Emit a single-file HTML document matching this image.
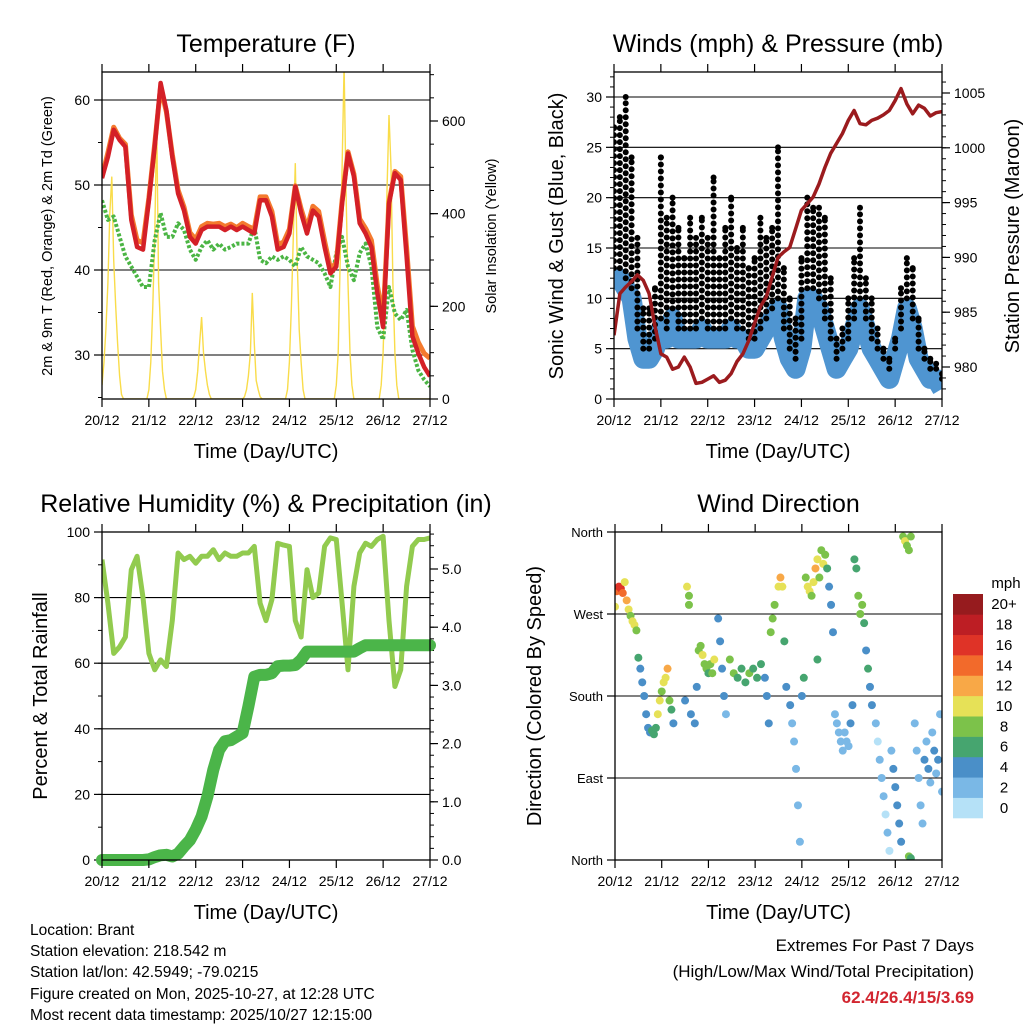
<!DOCTYPE html>
<html><head><meta charset="utf-8">
<style>
html,body{margin:0;padding:0;background:#fff;}
svg{display:block;font-family:"Liberation Sans",Arial,sans-serif;}
.foot{position:absolute;font-family:"Liberation Sans",Arial,sans-serif;font-size:15.5px;color:#000;}
</style></head>
<body>
<div style="position:relative;width:1024px;height:1024px;overflow:hidden">
<svg id="chart" width="1024" height="1024" viewBox="0 0 1024 1024"></svg>
<div class="foot" style="left:30px;top:920px;line-height:21.2px">Location: Brant<br>Station elevation: 218.542 m<br>Station lat/lon: 42.5949; -79.0215<br>Figure created on Mon, 2025-10-27, at 12:28 UTC<br>Most recent data timestamp: 2025/10/27 12:15:00</div>
<div class="foot" style="right:50px;top:933px;text-align:right;line-height:26px;font-size:17px">Extremes For Past 7 Days<br>(High/Low/Max Wind/Total Precipitation)<br><b style="color:#d22630">62.4/26.4/15/3.69</b></div>
</div>
<script>
// ---- data (3-hour steps, t = 0..168 h from 20/12) ----
const dayLabels = ["20/12","21/12","22/12","23/12","24/12","25/12","26/12","27/12"];
const tempRed = [50.8,53.3,56.5,55.3,54.5,45.9,42.7,42.4,48.2,54.5,62,58.8,53.3,49,47,43.9,43.1,44.7,45.1,45.1,45.1,44.7,45.1,44.7,45.1,44.7,44.3,48.2,48.2,46.3,42.4,42.7,44.3,49.8,46.7,44.3,47,46.3,42.7,39.6,40.4,47.8,53.7,51,45.5,44.3,42.7,37.3,33.3,47.8,51.4,50.6,41.6,32.2,30.2,28.6,27.5];
const tempOrange = [51,53.8,56.8,55.5,54.8,46.5,43.5,43.2,48.5,54.8,61.5,58.6,53.6,49.4,47.4,44.4,43.6,45.1,45.5,45.4,45.5,45.1,45.4,45,45.5,45.1,44.8,48.6,48.6,46.9,43,43.3,44.8,49.9,47.2,44.9,47.5,46.9,43.4,40.2,40.8,48.2,53.9,51.3,46,44.9,43.5,38.2,34.4,48,51.6,51,42.6,33.4,31.5,30.2,29.6];
const dewGreen = [48.2,45.9,46.3,43.9,41.6,40.4,39.2,38,38,43.5,46.7,43.9,43.9,45.5,44.7,42.4,41.2,42.7,43.5,42.4,43.1,42.4,42.7,43.1,43.1,43.1,45.1,41.2,40.8,41.6,41.2,41.6,41.2,40.4,42.7,41.6,41.2,40.8,39.6,38,42,43.9,40.4,38.8,42,43.1,40.4,33.3,31.8,38,34.9,34.1,35.3,30.6,28.2,27.1,26.3];
const solarT = [0,1,2,3,4,5,6,7,8,9,10,11, 23,24,25,26,27,28,29,30,31,32,33,34,35, 46,47,48,49,50,51,52,53,54,55,56, 72,73,74,75,76,77,78,79,80,81,82, 94,95,96,97,98,99,100,101,102,103,104, 119,120,121,122,123,124,125,126,127,128,129, 142,143,144,145,146,147,148,149,150,151,152,168];
const solarV = [30,80,150,250,400,480,300,200,120,50,10,0, 0,20,80,200,350,596,250,150,60,20,0,0,0, 0,5,20,60,120,177,100,60,30,10,0, 0,5,20,50,100,229,120,40,20,5,0, 0,20,80,200,350,509,300,150,80,20,0, 0,30,100,300,500,720,450,250,100,30,0, 0,30,100,250,450,613,500,250,100,30,0,0];
const windSpeed = [12,12,11,10,6,4,4,5,7,6,8,6,6,6,6,7,6,6,6,6,7,6,6,5,5,6,7,8,9,6,4,3,5,10,10,9,7,5,3,4,5,7,9,7,5,4,3,2,4,6,9,7,4,3,2,2,1];
const windGust = [27,28,30,24,16,9,9,11,24,18,20,17,14,18,16,18,16,22,14,17,20,15,17,13,14,18,16,17,25,13,10,8,14,20,19,19,18,12,6,7,10,14,19,12,10,7,5,4,6,11,14,13,8,5,4,3.5,2.5];
const pressure = [982.9,986.7,987.3,987.8,988.4,987.9,986.7,983.7,981.2,980.9,979.8,980,980.9,980,978.5,978.6,978.9,979.2,978.6,978.8,979.4,980.5,981.2,982.4,984,985.5,986.4,988.2,990,990.5,990.9,992.6,994.3,994.9,995.5,996.7,998.2,999.5,1000.4,1001.3,1002.5,1003.4,1002.2,1002.1,1002.5,1002.7,1003,1003.4,1004.3,1005.4,1004,1003.1,1003.9,1003.6,1002.9,1003.2,1003.3];
const relHum = [91.6,78.3,63,65,68,88.5,92.6,80,63,58,61,59,73,93.6,91.6,92.6,90.5,92.6,92.6,94.6,91.6,93.6,92.6,92.6,93.6,93.6,95.6,78.3,73,79.4,96.6,96,95.6,73,68,88.5,80,81.4,95.6,98.2,97.7,78.3,58,83.4,93.6,96.6,95.6,97.7,98.7,73,52.9,58,83.4,95.6,97.7,97.7,98.2];
const precip = [0,0,0,0,0,0,0,0,0.01,0.05,0.08,0.09,0.06,0.11,0.23,0.34,0.52,0.75,1.09,1.55,1.89,2.04,2.06,2.12,2.18,2.64,3.15,3.18,3.18,3.21,3.33,3.34,3.34,3.35,3.44,3.58,3.58,3.58,3.58,3.58,3.58,3.58,3.58,3.58,3.64,3.69,3.69,3.69,3.69,3.69,3.69,3.69,3.69,3.69,3.69,3.69,3.69];
const dirT = [0,1,2,3,4,5,6,7,8,9,10,11,12,13,14,15,16,17,18,19,20,21,22,23,24,25,26,27,28,29,30,37,38,38,36,39,41,42,43,44,45,46,47,48,49,50,51,53,54,55,56,57,59,61,63,65,67,69,71,73,75,77,78,79,80,81,82,84,85,86,87,88,90,91,92,93,94,95,96,97,98,99,100,101,102,103,104,105,106,107,108,109,110,111,112,104,113,114,115,116,117,118,119,120,121,122,123,124,125,126,127,128,129,130,131,132,134,135,136,137,138,139,140,141,142,143,144,145,146,147,148,149,150,151,152,151,152,154,155,156,157,158,159,160,161,162,163,164,165,166,167,168];
const dirDeg = [278,295,300,298,293,305,285,275,268,262,258,252,222,210,195,180,160,145,140,142,138,145,160,175,185,195,200,210,175,165,150,300,290,280,175,160,150,190,230,235,225,215,210,205,215,205,220,265,240,210,180,160,220,205,200,210,195,205,210,200,215,200,180,150,250,265,280,300,310,300,240,190,170,150,130,100,60,20,180,200,310,300,295,290,305,320,330,310,340,325,335,320,300,280,250,220,160,150,140,130,120,140,130,125,150,170,330,320,290,270,280,260,230,210,190,170,150,130,110,90,70,50,30,10,120,100,80,60,40,20,355,350,345,340,355,4,2,150,120,90,60,40,110,130,100,85,140,120,95,110,160,75];
const dirSpd = [10,14,15,16,14,10,12,10,8,10,9,7,5,4,4,4,4,4,3,5,6,6,9,10,8,9,10,11,7,5,4,9,8,7,4,4,3,3,7,8,9,7,8,6,8,7,9,4,4,3,3,2,8,7,6,5,6,7,6,6,5,4,4,3,7,8,8,10,12,9,6,4,3,2,1,1,2,1,4,5,8,10,9,8,9,12,10,8,7,9,7,6,4,3,3,6,2,2,1,2,1,2,1,2,3,4,6,6,7,8,7,5,4,6,3,3,1,0,1,2,1,0,1,0,2,3,4,3,4,3,8,9,8,8,7,7,6,2,1,2,1,2,3,2,3,2,2,3,2,3,2,2];
const cbLabels = ["0","2","4","6","8","10","12","14","16","18","20+"];
const cbColors = ["#b5e1f7","#7ab8e6","#4a8fc8","#46a56f","#7cc24a","#e6e157","#f8a847","#f26a2b","#df3327","#bd1e24","#961b1e"];

const svg = document.getElementById('chart');
const NS = 'http://www.w3.org/2000/svg';
function mk(tag, attrs, parent){
  const e = document.createElementNS(NS, tag);
  for (const k in attrs) e.setAttribute(k, attrs[k]);
  (parent||svg).appendChild(e);
  return e;
}
function lin(d0,d1,r0,r1){ return v => r0 + (v-d0)/(d1-d0)*(r1-r0); }
const hours = windSpeed.map((_,i)=>i*3);

function txt(x,y,s,size,anchor,rot,name){
  const t = mk('text',{x:x,y:y,'font-size':size,'text-anchor':anchor||'middle'});
  if(rot) t.setAttribute('transform','rotate(-90 '+x+' '+y+')');
  t.textContent = s;
  
  
  return t;
}

function frame(p, title){
  const g = mk('g',{});
  
  
  const xs = lin(0,168,p.x0,p.x1);
  dayLabels.forEach((lb,i)=>{
    const x = xs(i*24);
    mk('line',{x1:x,x2:x,y1:p.y1,y2:p.y1+8,stroke:'#000','stroke-width':1.2},g);
    mk('line',{x1:x,x2:x,y1:p.y0,y2:p.y0-8,stroke:'#000','stroke-width':1.2},g);
    txt(x,p.y1+26,lb,14,'middle',false,'x-tick-label');
  });
  txt((p.x0+p.x1)/2,p.y1+59,'Time (Day/UTC)',20,'middle',false,'x-axis-title');
  txt((p.x0+p.x1)/2,p.y0-20,title,25,'middle',false,'chart-title');
  return g;
}
function yaxis(p, scale, majors, minors, labels, side, gridOn, fs){
  const g = mk('g',{});
  
  
  const xe = side==='left'?p.x0:p.x1, dir = side==='left'?-1:1;
  minors.forEach(v=>{ const y=scale(v); mk('line',{x1:xe,x2:xe+dir*4,y1:y,y2:y,stroke:'#000','stroke-width':1},g); });
  majors.forEach((v,i)=>{
    const y=scale(v);
    mk('line',{x1:xe,x2:xe+dir*8,y1:y,y2:y,stroke:'#000','stroke-width':1.2},g);
    if(gridOn) mk('line',{x1:p.x0,x2:p.x1,y1:y,y2:y,stroke:'#000','stroke-width':1.1},g);
    txt(xe+dir*12,y+5,labels[i],fs||14,side==='left'?'end':'start',false,'y-tick-label');
  });
}
function border(p){
  const r = mk('rect',{x:p.x0,y:p.y0,width:p.x1-p.x0,height:p.y1-p.y0,fill:'none',stroke:'#000','stroke-width':1.3});
  
  
}
function range(a,b,s){ const r=[]; for(let v=a; v<=b+1e-9; v+=s) r.push(+v.toFixed(4)); return r; }
function pathOf(ts, vs, xs, ys){ return ts.map((t,i)=>(i?'L':'M')+xs(t).toFixed(1)+','+ys(vs[i]).toFixed(1)).join(''); }
function clip(p,id){ const c=mk('clipPath',{id:id}); mk('rect',{x:p.x0,y:p.y0,width:p.x1-p.x0,height:p.y1-p.y0},c); }

// ---- Panel 1: temperature ----
const P1={name:'temperature',x0:102,x1:430,y0:72,y1:399};
clip(P1,'c1');
const x1s = lin(0,168,P1.x0,P1.x1);
const tY = lin(30,60,355,100);
const sY = lin(0,600,399,121);
yaxis(P1,tY,[30,40,50,60],range(25,60,5),['30','40','50','60'],'left',true);
yaxis(P1,sY,[0,200,400,600],range(0,700,50),['0','200','400','600'],'right',false);
const solarPath = mk('path',{d:pathOf(solarT,solarV,x1s,sY),fill:'none',stroke:'#f9dc4a','stroke-width':1.4,'clip-path':'url(#c1)'});


const dewPath = mk('path',{d:pathOf(hours,dewGreen,x1s,tY),fill:'none',stroke:'#4bb544','stroke-width':4,'stroke-dasharray':'3 2','stroke-linejoin':'round','clip-path':'url(#c1)'});


const orPath = mk('path',{d:pathOf(hours,tempOrange,x1s,tY),fill:'none',stroke:'#f47a2e','stroke-width':5,'stroke-linejoin':'round','clip-path':'url(#c1)'});


const redPath = mk('path',{d:pathOf(hours,tempRed,x1s,tY),fill:'none',stroke:'#d42027','stroke-width':4.5,'stroke-linejoin':'round','clip-path':'url(#c1)'});


border(P1); frame(P1,'Temperature (F)');
txt(52,236,'2m & 9m T (Red, Orange) & 2m Td (Green)',14.5,'middle',true,'y-axis-title-left');
txt(496,236,'Solar Insolation (Yellow)',14.5,'middle',true,'y-axis-title-right');

// ---- Panel 2: winds & pressure ----
const P2={name:'winds',x0:614,x1:942,y0:72,y1:399};
clip(P2,'c2');
const x2s = lin(0,168,P2.x0,P2.x1);
const wY = lin(0,30,399,97);
const pY = lin(980,1005,367,93);
yaxis(P2,wY,range(0,30,5),range(0,32,1),['0','5','10','15','20','25','30'],'left',true);
yaxis(P2,pY,range(980,1005,5),range(978,1006,1),['980','985','990','995','1000','1005'],'right',false);
const windPath = mk('path',{d:pathOf(hours,windSpeed,x2s,wY),fill:'none',stroke:'#4f95d1','stroke-width':20,'stroke-linejoin':'round','clip-path':'url(#c2)'});


hours.forEach((t,i)=>{
  const x=x2s(t);
  const seg = mk('line',{x1:x,x2:x,y1:wY(windSpeed[i]+1),y2:wY(windGust[i]),stroke:'#000','stroke-width':6,'stroke-linecap':'round','stroke-dasharray':'0 7','clip-path':'url(#c2)'});
  
  
  const dot = mk('circle',{cx:x,cy:wY(windGust[i]),r:3,fill:'#000','clip-path':'url(#c2)'});
  
  
});
const presPath = mk('path',{d:pathOf(hours,pressure,x2s,pY),fill:'none',stroke:'#9b1b1e','stroke-width':3.5,'stroke-linejoin':'round','clip-path':'url(#c2)'});


border(P2); frame(P2,'Winds (mph) & Pressure (mb)');
txt(563,236,'Sonic Wind & Gust (Blue, Black)',20,'middle',true,'y-axis-title-left');
txt(1019,236,'Station Pressure (Maroon)',20,'middle',true,'y-axis-title-right');

// ---- Panel 3: RH & precip ----
const P3={name:'humidity',x0:102,x1:430,y0:532,y1:860};
clip(P3,'c3');
const x3s = lin(0,168,P3.x0,P3.x1);
const rY = lin(0,100,860,532);
const qY = lin(0,5,860,569);
yaxis(P3,rY,range(0,100,20),range(0,100,10),['0','20','40','60','80','100'],'left',true);
yaxis(P3,qY,range(0,5,1),range(0,5.6,0.2),['0.0','1.0','2.0','3.0','4.0','5.0'],'right',false);
const rhPath = mk('path',{d:pathOf(hours,relHum,x3s,rY),fill:'none',stroke:'#92cb4f','stroke-width':5,'stroke-linejoin':'round','clip-path':'url(#c3)'});


const prPath = mk('path',{d:pathOf(hours,precip,x3s,qY),fill:'none',stroke:'#4bb549','stroke-width':12,'stroke-linejoin':'round','stroke-linecap':'round'});


border(P3); frame(P3,'Relative Humidity (%) & Precipitation (in)');
txt(47,696,'Percent & Total Rainfall',20,'middle',true,'y-axis-title-left');

// ---- Panel 4: wind direction ----
const P4={name:'wind-direction',x0:615,x1:942,y0:532,y1:860};
clip(P4,'c4');
const x4s = lin(0,168,P4.x0,P4.x1);
const dY = lin(0,360,860,532);
yaxis(P4,dY,[0,90,180,270,360],[],['North','East','South','West','North'],'left',true,13);
dirT.forEach((t,i)=>{
  const idx = Math.min(10, Math.round(dirSpd[i]/2));
  const c = mk('circle',{cx:x4s(t),cy:dY(dirDeg[i]),r:4,fill:cbColors[idx],'clip-path':'url(#c4)'});
  
  
});
border(P4); frame(P4,'Wind Direction');
txt(541,696,'Direction (Colored By Speed)',20,'middle',true,'y-axis-title-left');

// colorbar
const cbH = 224/11;
cbColors.forEach((col,i)=>{
  const y = 818 - (i+1)*cbH;
  const r = mk('rect',{x:953,y:y,width:30,height:cbH+0.3,fill:col});
  
  
  txt(1004,y+cbH/2+5,cbLabels[i],15,'middle',false,'colorbar-label');
});
txt(1006,588,'mph',15,'middle',false,'colorbar-title');
</script>
</body></html>
